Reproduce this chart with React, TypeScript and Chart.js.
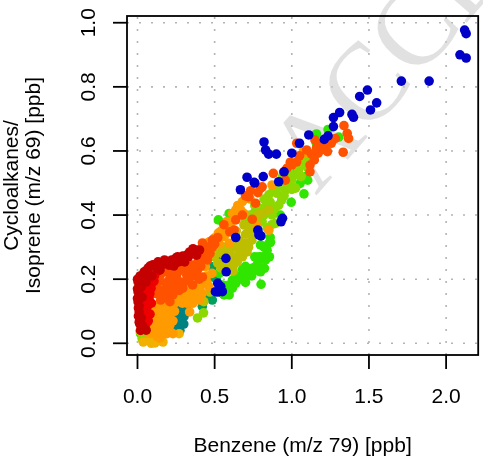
import React, { useEffect, useRef } from "react";
import { Chart, registerables } from "chart.js";
Chart.register(...registerables);

const xTicks = [0, 0.5, 1.0, 1.5, 2.0];
const yTicks = [0, 0.2, 0.4, 0.6, 0.8, 1.0];
const xTickLabels = ["0.0", "0.5", "1.0", "1.5", "2.0"];
const yTickLabels = ["0.0", "0.2", "0.4", "0.6", "0.8", "1.0"];
const xTitle = "Benzene (m/z 79) [ppb]";
const yTitleLines = ["Cycloalkanes/", "Isoprene (m/z 69) [ppb]"];
const watermark = "ACCEPTED MANUSCRIPT";

type P = [number, number];

const bluePts: P[] = [
  [2.12, 0.977], [2.13, 0.966], [2.09, 0.9], [2.13, 0.89], [1.71, 0.818], [1.89, 0.818],
  [1.49, 0.79], [1.44, 0.77], [1.55, 0.75], [1.51, 0.728], [1.31, 0.72], [1.39, 0.714],
  [1.4, 0.705], [1.27, 0.704], [1.27, 0.676], [1.235, 0.647], [1.21, 0.636], [1.11, 0.65],
  [1.05, 0.624], [0.82, 0.628], [0.83, 0.603], [0.85, 0.59], [0.9, 0.59], [1.0, 0.593],
  [0.71, 0.518], [0.815, 0.52], [0.95, 0.535], [0.756, 0.502], [0.667, 0.479], [0.76, 0.5],
  [0.915, 0.504], [0.93, 0.379], [0.94, 0.39], [0.78, 0.353], [0.8, 0.335], [0.787, 0.338],
  [0.637, 0.33], [0.573, 0.265], [0.575, 0.223], [0.52, 0.187], [0.505, 0.161], [0.52, 0.16],
  [0.54, 0.177], [0.55, 0.161],
];

const darkRedPts: P[] = [
  [0.004, 0.191], [0.004, 0.16], [0.004, 0.129], [0.011, 0.098], [0.011, 0.066], [0.017, 0.21],
  [0.024, 0.176], [0.03, 0.144], [0.024, 0.079], [0.037, 0.048], [0.043, 0.223], [0.056, 0.191],
  [0.062, 0.229], [0.081, 0.241], [0.094, 0.21], [0.113, 0.241], [0.133, 0.254], [0.146, 0.229],
  [0.165, 0.251], [0.184, 0.254], [0.203, 0.244], [0.222, 0.26], [0.248, 0.266], [0.267, 0.254],
  [0.293, 0.272], [0.319, 0.275], [0.338, 0.285], [0.357, 0.282], [0.306, 0.254], [0.235, 0.241],
  [0.017, 0.148], [0.011, 0.116], [0.03, 0.057], [0.056, 0.041], [0.28, 0.263], [0.402, 0.291],
  [0.383, 0.275], [0.0, 0.2], [0.0, 0.17], [0.0, 0.14], [0.006, 0.11], [0.006, 0.085],
  [0.015, 0.06], [0.02, 0.04], [0.07, 0.235], [0.1, 0.245], [0.12, 0.235], [0.155, 0.245],
  [0.175, 0.26], [0.21, 0.255], [0.26, 0.27], [0.3, 0.265], [0.33, 0.27], [0.36, 0.295],
  [0.39, 0.29], [0.05, 0.215], [0.035, 0.205],
];

const redPts: P[] = [
  [0.017, 0.185], [0.03, 0.16], [0.043, 0.135], [0.024, 0.116], [0.037, 0.095], [0.049, 0.073],
  [0.062, 0.113], [0.075, 0.141], [0.088, 0.172], [0.107, 0.194], [0.069, 0.197], [0.081, 0.091],
  [0.056, 0.16], [0.045, 0.18], [0.06, 0.18], [0.08, 0.155], [0.095, 0.19], [0.05, 0.12],
  [0.035, 0.1], [0.06, 0.09], [0.04, 0.065], [0.055, 0.06], [0.07, 0.07], [0.09, 0.125],
  [0.11, 0.21], [0.13, 0.225], [0.075, 0.215],
];

const orangeRedPts: P[] = [
  [0.126, 0.172], [0.19, 0.182], [0.254, 0.204], [0.319, 0.213], [0.357, 0.244], [0.165, 0.141],
  [0.229, 0.151], [0.293, 0.172], [0.357, 0.182], [0.126, 0.213], [0.21, 0.213], [0.248, 0.185],
  [0.312, 0.229], [0.395, 0.26], [0.44, 0.282], [0.46, 0.3], [0.485, 0.322], [0.165, 0.166],
  [0.274, 0.235], [0.146, 0.194], [0.421, 0.207], [0.389, 0.229], [0.421, 0.313], [0.453, 0.26],
  [0.485, 0.3], [0.11, 0.19], [0.14, 0.16], [0.18, 0.16], [0.2, 0.195], [0.22, 0.175],
  [0.23, 0.21], [0.26, 0.22], [0.28, 0.19], [0.3, 0.19], [0.33, 0.2], [0.34, 0.23],
  [0.37, 0.21], [0.38, 0.245], [0.41, 0.24], [0.43, 0.265], [0.4, 0.2], [0.18, 0.225],
  [0.2, 0.235], [0.15, 0.215], [0.27, 0.165], [0.19, 0.145], [0.24, 0.24], [0.47, 0.28],
  [0.5, 0.31], [0.52, 0.33], [0.12, 0.155], [0.1, 0.165], [0.15, 0.135], [0.21, 0.13],
  [0.598, 0.348], [0.637, 0.385], [0.626, 0.353], [0.744, 0.387], [0.765, 0.437], [0.733, 0.476],
  [0.808, 0.488], [0.968, 0.546], [0.958, 0.509], [0.722, 0.457], [0.797, 0.483], [0.947, 0.534],
  [0.56, 0.37], [0.68, 0.4], [0.7, 0.46], [0.78, 0.47], [0.88, 0.53], [0.99, 0.565],
  [1.032, 0.566], [1.118, 0.535], [1.146, 0.572], [1.032, 0.624], [1.128, 0.59], [1.171, 0.593],
  [1.188, 0.616], [1.214, 0.624], [1.231, 0.598], [1.256, 0.624], [1.282, 0.639], [1.338, 0.679],
  [1.359, 0.655], [1.368, 0.639], [1.333, 0.596], [1.15, 0.634], [1.224, 0.629], [1.118, 0.556],
  [1.096, 0.603], [1.16, 0.609], [1.0, 0.556], [1.05, 0.585], [1.2, 0.605],
];

const orangePts: P[] = [
  [0.141, 0.114], [0.205, 0.119], [0.12, 0.083], [0.184, 0.088], [0.291, 0.125], [0.333, 0.145],
  [0.419, 0.156], [0.462, 0.177], [0.483, 0.218], [0.44, 0.239], [0.163, 0.041], [0.103, 0.119],
  [0.231, 0.119], [0.306, 0.14], [0.359, 0.151], [0.103, 0.088], [0.167, 0.078], [0.21, 0.057],
  [0.081, 0.031], [0.146, 0.016], [0.338, 0.187], [0.381, 0.166], [0.402, 0.135], [0.359, 0.125],
  [0.551, 0.333], [0.594, 0.312], [0.524, 0.344], [0.68, 0.442], [0.872, 0.494], [0.637, 0.416],
  [0.69, 0.405], [0.615, 0.405], [0.669, 0.416], [0.605, 0.348], [0.562, 0.333], [0.498, 0.328],
  [0.466, 0.317], [0.423, 0.291], [0.851, 0.353], [0.776, 0.364], [1.075, 0.598], [1.086, 0.593],
  [0.274, 0.16], [0.248, 0.148], [0.338, 0.098], [0.13, 0.06], [0.09, 0.1], [0.11, 0.1],
  [0.13, 0.095], [0.15, 0.1], [0.16, 0.125], [0.19, 0.1], [0.21, 0.09],
  [0.22, 0.135], [0.18, 0.13], [0.15, 0.06], [0.17, 0.055], [0.19, 0.07],
  [0.12, 0.045], [0.1, 0.06], [0.09, 0.045], [0.23, 0.07], [0.24, 0.1], [0.32, 0.125],
  [0.34, 0.165], [0.31, 0.16], [0.37, 0.14], [0.39, 0.18], [0.41, 0.18], [0.43, 0.2],
  [0.45, 0.21], [0.45, 0.19], [0.28, 0.145], [0.26, 0.13], [0.13, 0.02], [0.19, 0.03],
  [0.23, 0.03], [0.54, 0.35], [0.57, 0.36], [0.6, 0.37], [0.63, 0.39],
  [0.66, 0.4], [0.73, 0.45], [0.65, 0.43], [0.58, 0.38], [0.53, 0.31],
];

const amberPts: P[] = [
  [0.037, 0.004], [0.113, 0.001], [0.017, 0.038], [0.165, 0.004], [0.081, 0.007],
  [0.27, 0.03], [0.09, 0.0], [0.2, 0.035],
];

const olivePts: P[] = [
  [0.551, 0.25], [0.615, 0.27], [0.658, 0.291], [0.701, 0.312], [0.594, 0.229], [0.637, 0.333],
  [0.498, 0.27], [0.68, 0.27], [0.754, 0.379], [0.808, 0.405], [0.851, 0.416], [0.573, 0.27],
  [0.722, 0.36], [0.742, 0.322], [0.774, 0.378], [0.646, 0.254], [0.581, 0.297], [0.69, 0.369],
  [0.71, 0.285], [0.633, 0.3], [0.43, 0.13], [0.47, 0.16], [0.5, 0.29], [0.52, 0.3],
  [0.55, 0.28], [0.56, 0.3], [0.6, 0.28], [0.6, 0.25], [0.62, 0.24], [0.65, 0.27],
  [0.67, 0.3], [0.66, 0.32], [0.7, 0.34], [0.72, 0.3], [0.73, 0.34], [0.76, 0.35],
  [0.78, 0.4], [0.6, 0.31], [0.64, 0.35], [0.54, 0.235], [0.52, 0.25], [0.62, 0.225],
  [0.06, 0.012], [0.2, 0.06],
];

const yellowGreenPts: P[] = [
  [0.851, 0.463], [0.904, 0.468], [0.797, 0.421], [0.872, 0.4], [0.808, 0.379], [0.894, 0.374],
  [0.979, 0.494], [1.022, 0.525], [0.934, 0.447], [0.96, 0.478], [1.043, 0.54], [0.998, 0.509],
  [0.915, 0.431], [0.838, 0.438], [0.761, 0.41], [1.062, 0.556], [1.088, 0.572], [1.024, 0.484],
  [0.21, 0.036], [0.389, 0.079], [0.428, 0.095], [0.7, 0.38], [0.73, 0.4], [0.76, 0.43],
  [0.82, 0.45], [0.86, 0.44], [0.88, 0.48], [0.92, 0.49], [0.94, 0.52], [0.98, 0.53],
  [1.0, 0.48], [0.95, 0.46], [0.89, 0.42], [0.82, 0.4], [0.84, 0.36], [0.87, 0.37],
  [1.06, 0.52], [1.1, 0.55], [0.03, 0.015], [0.15, 0.008],
];

const greenPts: P[] = [
  [0.801, 0.184], [0.823, 0.234], [0.855, 0.27], [0.862, 0.315], [0.787, 0.27], [0.754, 0.226],
  [0.679, 0.208], [0.615, 0.197], [0.562, 0.151], [0.637, 0.187], [0.69, 0.213], [0.722, 0.229],
  [0.765, 0.239], [0.797, 0.223], [0.808, 0.27], [0.851, 0.312], [0.797, 0.307], [0.615, 0.172],
  [0.573, 0.161], [0.551, 0.182], [0.594, 0.151], [0.744, 0.234], [0.53, 0.218], [1.079, 0.466],
  [0.996, 0.44], [0.926, 0.4], [1.103, 0.509], [0.797, 0.385], [0.594, 0.405], [0.562, 0.374],
  [1.054, 0.499], [1.16, 0.653], [1.235, 0.667], [1.304, 0.643], [1.16, 0.622], [1.032, 0.535],
  [1.09, 0.52], [0.124, 0.026], [0.167, 0.036], [0.038, 0.021], [0.099, 0.02], [0.524, 0.385],
  [0.66, 0.2], [0.7, 0.19], [0.74, 0.21], [0.78, 0.25], [0.83, 0.26], [0.84, 0.29],
  [0.82, 0.3], [0.86, 0.33], [0.6, 0.17], [0.58, 0.18], [0.64, 0.21], [0.7, 0.24],
  [0.68, 0.23], [0.76, 0.27], [0.06, 0.03], [0.14, 0.03], [0.11, 0.035], [0.02, 0.03],
];

const darkGreenPts: P[] = [
  [0.445, 0.145], [0.485, 0.135], [0.477, 0.208], [0.485, 0.239], [0.381, 0.145], [0.551, 0.156],
  [0.42, 0.115], [0.51, 0.2],
];

const tealPts: P[] = [
  [0.269, 0.114], [0.269, 0.083], [0.269, 0.052], [0.301, 0.083], [0.248, 0.083], [0.291, 0.099],
  [0.317, 0.109], [0.263, 0.067], [0.53, 0.265], [0.569, 0.25], [0.255, 0.1], [0.28, 0.07],
  [0.3, 0.06], [0.275, 0.04], [0.285, 0.11], [0.24, 0.105], [0.31, 0.095], [0.26, 0.045],
];

const groups: { name: string; pts: P[]; color: string }[] = [
  { name: "blue", pts: bluePts, color: "#0000C8" },
  { name: "darkred", pts: darkRedPts, color: "#C40000" },
  { name: "red", pts: redPts, color: "#EE0000" },
  { name: "orangered", pts: orangeRedPts, color: "#FF5200" },
  { name: "orange", pts: orangePts, color: "#FF9A00" },
  { name: "amber", pts: amberPts, color: "#F2B000" },
  { name: "olive", pts: olivePts, color: "#BEBE00" },
  { name: "yellowgreen", pts: yellowGreenPts, color: "#8CD800" },
  { name: "green", pts: greenPts, color: "#30E600" },
  { name: "darkgreen", pts: darkGreenPts, color: "#00A060" },
  { name: "teal", pts: tealPts, color: "#008282" },
];

const FONT = "21px 'Liberation Sans', Arial, Helvetica, sans-serif";

const framePlugin = {
  id: "frame",
  beforeDatasetsDraw(chart: any) {
    const { ctx, chartArea: a } = chart;
    const x = chart.scales.x;
    const y = chart.scales.y;
    ctx.save();
    ctx.strokeStyle = "#b4b4b4";
    ctx.lineWidth = 1.6;
    ctx.setLineDash([2, 10]);
    for (const t of xTicks) {
      const px = x.getPixelForValue(t);
      ctx.beginPath();
      ctx.moveTo(px, a.bottom);
      ctx.lineTo(px, a.top);
      ctx.stroke();
    }
    for (const t of yTicks) {
      const py = y.getPixelForValue(t);
      ctx.beginPath();
      ctx.moveTo(a.left, py);
      ctx.lineTo(a.right, py);
      ctx.stroke();
    }
    ctx.setLineDash([]);
    ctx.restore();
    ctx.save();
    ctx.translate(316, 196);
    ctx.rotate((-49 * Math.PI) / 180);
    ctx.font = "110px 'Liberation Serif', 'Times New Roman', serif";
    ctx.fillStyle = "rgba(205,205,205,0.6)";
    ctx.textAlign = "left";
    ctx.textBaseline = "alphabetic";
    ctx.fillText(watermark, 0, 0);
    ctx.restore();
  },
  afterDatasetsDraw(chart: any) {
    const { ctx, chartArea: a } = chart;
    const x = chart.scales.x;
    const y = chart.scales.y;
    ctx.save();
    ctx.strokeStyle = "#000";
    ctx.lineWidth = 1.8;
    ctx.strokeRect(a.left, a.top, a.right - a.left, a.bottom - a.top);
    ctx.fillStyle = "#000";
    ctx.font = FONT;
    ctx.textAlign = "center";
    ctx.textBaseline = "alphabetic";
    xTicks.forEach((t, i) => {
      const px = x.getPixelForValue(t);
      ctx.beginPath();
      ctx.moveTo(px, a.bottom);
      ctx.lineTo(px, a.bottom + 14);
      ctx.stroke();
      ctx.fillText(xTickLabels[i], px, a.bottom + 47.5);
    });
    yTicks.forEach((t, i) => {
      const py = y.getPixelForValue(t);
      ctx.beginPath();
      ctx.moveTo(a.left, py);
      ctx.lineTo(a.left - 14, py);
      ctx.stroke();
      ctx.save();
      ctx.translate(a.left - 32, py);
      ctx.rotate(-Math.PI / 2);
      ctx.fillText(yTickLabels[i], 0, 0);
      ctx.restore();
    });
    const cx = (a.left + a.right) / 2;
    const cy = (a.top + a.bottom) / 2;
    ctx.fillText(xTitle, cx, 452);
    const lineX = [18, 40];
    yTitleLines.forEach((s, i) => {
      ctx.save();
      ctx.translate(lineX[i], cy);
      ctx.rotate(-Math.PI / 2);
      ctx.fillText(s, 0, 0);
      ctx.restore();
    });
    ctx.restore();
  },
};

export default function App() {
  const ref = useRef<HTMLCanvasElement | null>(null);
  useEffect(() => {
    if (!ref.current) return;
    const chart = new Chart(ref.current, {
      type: "scatter",
      data: {
        datasets: groups.map((g) => ({
          label: g.name,
          data: g.pts.map(([px, py]) => ({ x: px, y: py })),
          backgroundColor: g.color,
          borderWidth: 0,
          pointRadius: 4.8,
          pointHoverRadius: 4.8,
        })),
      },
      options: {
        animation: false,
        responsive: false,
        events: [],
        layout: { padding: { left: 127, top: 16, right: 1, bottom: 103 } },
        plugins: { legend: { display: false }, tooltip: { enabled: false } },
        scales: {
          x: { type: "linear", min: -0.068, max: 2.208, display: false },
          y: { type: "linear", min: -0.0365, max: 1.021, display: false },
        },
      },
      plugins: [framePlugin],
    });
    return () => chart.destroy();
  }, []);
  return (
    <div style={{ position: "fixed", left: 0, top: 0, width: 483, height: 458, background: "#fff" }}>
      <canvas ref={ref} width={483} height={458} style={{ display: "block" }} />
    </div>
  );
}
